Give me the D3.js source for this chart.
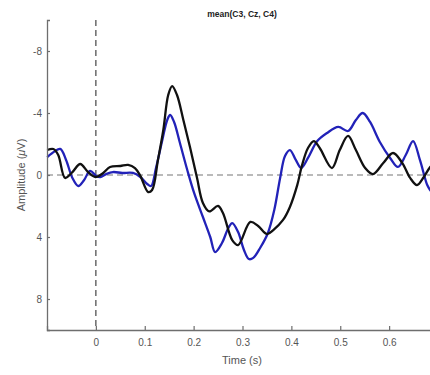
<!DOCTYPE html>
<html><head><meta charset="utf-8">
<script src="https://cdn.jsdelivr.net/npm/d3@7"></script>
<style>body{margin:0;background:#fff}svg{display:block}</style>
</head><body>
<script>
const title = "mean(C3, Cz, C4)";
const xTicks = [0, 0.1, 0.2, 0.3, 0.4, 0.5, 0.6];
const yTicks = [-8, -4, 0, 4, 8];
const blackT = [-0.0996,-0.087,-0.077,-0.063,-0.048,-0.032,-0.016,-0.001,0.015,0.029,0.050,0.066,0.080,0.091,0.107,0.115,0.127,0.138,0.148,0.156,0.166,0.179,0.193,0.207,0.219,0.232,0.250,0.260,0.279,0.291,0.316,0.332,0.350,0.363,0.383,0.397,0.412,0.422,0.434,0.446,0.458,0.483,0.499,0.516,0.532,0.551,0.567,0.588,0.608,0.627,0.643,0.657,0.671,0.684,0.70];
const blackV = [-1.61,-1.68,-1.29,0.19,-0.19,-0.71,-0.19,0.13,-0.13,-0.52,-0.58,-0.65,-0.45,0.06,1.10,0.97,-0.97,-2.90,-5.16,-5.74,-5.16,-3.55,-1.74,0.20,1.80,2.35,2.00,2.45,4.20,4.52,3.03,3.29,3.81,3.55,2.90,2.06,0.65,-0.65,-1.74,-2.19,-1.74,-0.45,-1.61,-2.52,-1.61,-0.45,-0.06,-0.77,-1.42,-0.77,0.19,0.65,0.13,-0.52,-1.0];
const blueT = [-0.0996,-0.089,-0.073,-0.061,-0.048,-0.036,-0.024,-0.012,0.001,0.009,0.021,0.035,0.054,0.076,0.091,0.105,0.113,0.123,0.136,0.146,0.152,0.160,0.172,0.187,0.201,0.219,0.234,0.244,0.258,0.271,0.279,0.291,0.303,0.313,0.322,0.336,0.352,0.365,0.377,0.387,0.397,0.409,0.420,0.434,0.453,0.473,0.496,0.516,0.532,0.546,0.561,0.581,0.602,0.618,0.634,0.649,0.663,0.678,0.684,0.70];
const blueV = [-1.16,-1.42,-1.68,-0.97,0.19,0.71,0.32,-0.26,0.06,0.13,-0.06,-0.19,-0.13,-0.13,0.13,0.58,0.71,-0.45,-2.26,-3.55,-3.87,-3.42,-2.06,-0.32,1.16,2.71,4.00,4.97,4.39,3.42,3.10,3.68,4.84,5.42,5.35,4.71,3.74,2.26,0.19,-1.23,-1.61,-0.97,-0.45,-1.10,-2.19,-2.71,-3.10,-2.84,-3.55,-4.00,-3.42,-2.13,-1.10,-0.52,-1.29,-2.19,-0.97,0.65,0.97,1.6];

const W = 430, H = 375;
const svg = d3.select("body").append("svg").attr("width", W).attr("height", H)
  .style("font-family", "'Liberation Sans', Arial, sans-serif");
const x = d3.scaleLinear().domain([-0.1, 0.7]).range([47, 438]);
const y = d3.scaleLinear().domain([-10, 10]).range([20, 330]);
const axisCol = "#6e6e6e", textCol = "#555";

// zero lines
svg.append("line").attr("x1", x(-0.1)).attr("x2", x(0.7)).attr("y1", y(0)).attr("y2", y(0))
  .attr("stroke", "#777").attr("stroke-width", 1.2).attr("stroke-dasharray", "6,4");
svg.append("line").attr("x1", x(0)).attr("x2", x(0)).attr("y1", y(-10)).attr("y2", y(10))
  .attr("stroke", "#444").attr("stroke-width", 1.2).attr("stroke-dasharray", "6,4");

const line = d3.line().x(d => x(d[0])).y(d => y(d[1])).curve(d3.curveCatmullRom.alpha(0.5));
const blackData = blackT.map((t, i) => [t, blackV[i]]);
const blueData = blueT.map((t, i) => [t, blueV[i]]);
svg.append("path").datum(blueData).attr("d", line).attr("fill", "none")
  .attr("stroke", "#2222b8").attr("stroke-width", 2.3).attr("stroke-linejoin", "round");
svg.append("path").datum(blackData).attr("d", line).attr("fill", "none")
  .attr("stroke", "#111").attr("stroke-width", 2.3).attr("stroke-linejoin", "round");

// axes
const xAxis = d3.axisBottom(x).tickValues(xTicks).tickSize(-4).tickPadding(9).tickFormat(d3.format("~g"));
const gx = svg.append("g").attr("transform", `translate(0,${y(10)})`).call(xAxis);
const yAxis = d3.axisLeft(y).tickValues(yTicks).tickSize(-3).tickPadding(5).tickFormat(d => d);
const gy = svg.append("g").attr("transform", `translate(${x(-0.1)},0)`).call(yAxis);
[gx, gy].forEach(g => {
  g.select(".domain").attr("stroke", axisCol).attr("stroke-width", 1.3);
  g.selectAll(".tick line").attr("stroke", axisCol).attr("stroke-width", 1.2);
  g.selectAll(".tick text").attr("fill", textCol).style("font-size", "10px").style("font-family", "'Liberation Sans', Arial, sans-serif");
});

svg.append("text").attr("x", 242).attr("y", 17).attr("text-anchor", "middle")
  .style("font-size", "8.5px").style("font-weight", "bold").attr("fill", "#222").text(title);
svg.append("text").attr("x", 242).attr("y", 364).attr("text-anchor", "middle")
  .style("font-size", "11px").attr("fill", textCol).text("Time (s)");
const yl = svg.append("text").attr("transform", "translate(25,175) rotate(-90)").attr("text-anchor", "middle")
  .style("font-size", "11px").attr("fill", textCol);
yl.append("tspan").text("Amplitude (");
yl.append("tspan").style("font-style", "italic").text("μ");
yl.append("tspan").text("V)");
</script>
</body></html>
